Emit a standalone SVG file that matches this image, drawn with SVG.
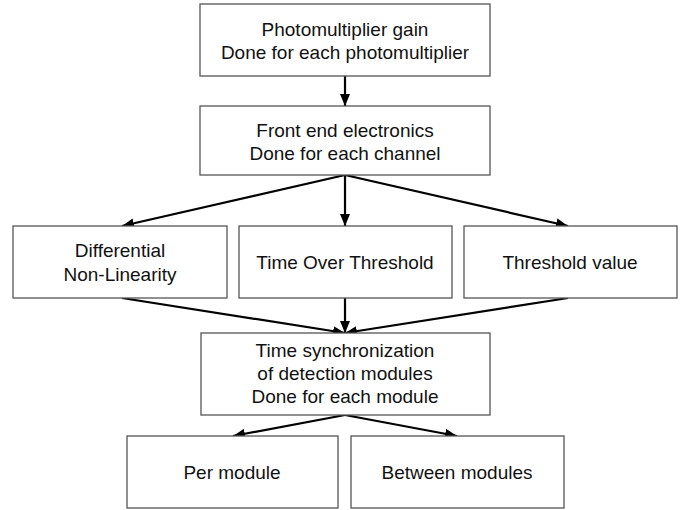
<svg xmlns="http://www.w3.org/2000/svg" width="690" height="510" viewBox="0 0 690 510">
<style>
.box{fill:#fff;stroke:#555;stroke-width:1.3}
.t{font-family:"Liberation Sans",Arial,sans-serif;font-size:19px;fill:#111;text-anchor:middle}
.c{stroke:#000;stroke-width:2.2;fill:none;marker-end:url(#ah)}
</style>
<defs>
<marker id="ah" viewBox="0 0 12 10" refX="12" refY="5" markerWidth="12" markerHeight="10" markerUnits="userSpaceOnUse" orient="auto">
<path d="M0,0 L12,5 L0,10 Z" fill="#000"/>
</marker>
</defs>
<rect width="690" height="510" fill="#fff"/>
<g id="connectors">
<line class="c" x1="345" y1="76" x2="345" y2="106"/>
<line class="c" x1="345" y1="175" x2="122" y2="226"/>
<line class="c" x1="345" y1="175" x2="345" y2="226"/>
<line class="c" x1="345" y1="175" x2="568" y2="226"/>
<line class="c" x1="122" y1="298" x2="345" y2="333"/>
<line class="c" x1="345" y1="298" x2="345" y2="333"/>
<line class="c" x1="568" y1="298" x2="345" y2="333"/>
<line class="c" x1="345" y1="415" x2="233" y2="436"/>
<line class="c" x1="345" y1="415" x2="457" y2="436"/>
</g>
<g id="pmt">
<rect class="box" x="200" y="4" width="290" height="72"/>
<text class="t" x="345" y="36">Photomultiplier gain</text>
<text class="t" x="345" y="59">Done for each photomultiplier</text>
</g>
<g id="fee">
<rect class="box" x="200" y="106" width="290" height="69"/>
<text class="t" x="345" y="137">Front end electronics</text>
<text class="t" x="345" y="160">Done for each channel</text>
</g>
<g id="dnl">
<rect class="box" x="13" y="226" width="214" height="72"/>
<text class="t" x="120" y="257">Differential</text>
<text class="t" x="120" y="281">Non-Linearity</text>
</g>
<g id="tot">
<rect class="box" x="239" y="226" width="213" height="72"/>
<text class="t" x="345" y="269">Time Over Threshold</text>
</g>
<g id="thr">
<rect class="box" x="464" y="226" width="213" height="72"/>
<text class="t" x="570" y="269">Threshold value</text>
</g>
<g id="sync">
<rect class="box" x="201" y="333" width="289" height="82"/>
<text class="t" x="345" y="357">Time synchronization</text>
<text class="t" x="345" y="380">of detection modules</text>
<text class="t" x="345" y="403">Done for each module</text>
</g>
<g id="per">
<rect class="box" x="127" y="436" width="211" height="72"/>
<text class="t" x="232" y="479">Per module</text>
</g>
<g id="between">
<rect class="box" x="351" y="436" width="213" height="72"/>
<text class="t" x="457" y="479">Between modules</text>
</g>
</svg>
